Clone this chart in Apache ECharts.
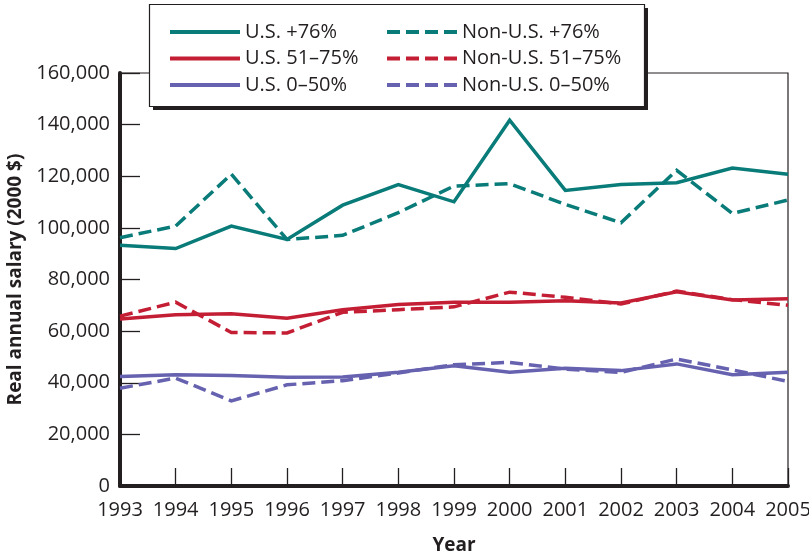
<!DOCTYPE html>
<html>
<head>
<meta charset="utf-8">
<script src="https://cdn.jsdelivr.net/npm/echarts@6/dist/echarts.min.js"></script>
<style>
  html, body { margin: 0; padding: 0; background: #fff; }
  #chart { width: 809px; height: 556px; }
</style>
</head>
<body>
<div id="chart"></div>
<script>
// Years on the horizontal axis
const years = ['1993','1994','1995','1996','1997','1998','1999','2000','2001','2002','2003','2004','2005'];

// Real annual salary (2000 $) by group
const usTop      = [93300, 92000, 100700, 95500, 108800, 116800, 110100, 141700, 114500, 116800, 117500, 123200, 120800];
const nonUsTop   = [96200, 100700, 120800, 95500, 97100, 105900, 116200, 117100, 109100, 102000, 122300, 105600, 110800];
const usMid      = [64700, 66300, 66700, 65000, 68300, 70300, 71200, 71200, 71800, 70900, 75200, 72100, 72500];
const nonUsMid   = [65800, 71200, 59500, 59300, 67300, 68300, 69400, 75100, 73100, 70500, 75500, 72200, 70000];
const usLow      = [42400, 43100, 42800, 42100, 42200, 44100, 46600, 44100, 45600, 44700, 47300, 43100, 44100];
const nonUsLow   = [37900, 41800, 33000, 39200, 40800, 43800, 47000, 47900, 45300, 44000, 49200, 45000, 40500];

const seriesNames = ['U.S. +76%', 'U.S. 51–75%', 'U.S. 0–50%', 'Non-U.S. +76%', 'Non-U.S. 51–75%', 'Non-U.S. 0–50%'];

const TEAL = '#097b79';
const RED = '#c41e35';
const PURPLE = '#6762b0';
const INK = '#231f20';
const FONT = '"Open Sans", "Noto Sans", sans-serif';
const DASH = [13, 6];

function lineSeries(name, data, color, dashed) {
  return {
    name: name,
    type: 'line',
    data: data,
    symbol: 'none',
    showSymbol: false,
    smooth: false,
    lineStyle: { color: color, width: 3.5, type: dashed ? DASH : 'solid', cap: 'butt', join: 'miter' },
    itemStyle: { color: color },
    emphasis: { disabled: true },
    z: 2
  };
}

const legendText = { fontFamily: FONT, fontSize: 20, color: INK };
const legendCommon = {
  orient: 'vertical',
  top: 17,
  itemWidth: 70, itemHeight: 12, itemGap: 6.5,
  textStyle: legendText,
  selectedMode: false,
  itemStyle: { opacity: 0 },
  lineStyle: { width: 4 },
  z: 10
};

const chart = echarts.init(document.getElementById('chart'), null, { renderer: 'canvas' });
chart.setOption({
  animation: false,
  backgroundColor: '#fff',
  grid: {
    left: 120, right: 21, top: 73, bottom: 70,
    outerBoundsMode: 'none',
    containLabel: false,
    show: true, borderColor: INK, borderWidth: 1.2, backgroundColor: 'transparent'
  },
  legend: [
    Object.assign({ data: seriesNames.slice(0, 3), left: 163 }, legendCommon),
    Object.assign({ data: seriesNames.slice(3), left: 380 }, legendCommon)
  ],
  graphic: [
    {
      type: 'rect', z: 5,
      shape: { x: 153, y: 8, width: 495, height: 102 },
      style: { fill: INK }
    },
    {
      type: 'rect', z: 6,
      shape: { x: 149.5, y: 4.5, width: 495, height: 102 },
      style: { fill: '#fff', stroke: INK, lineWidth: 1.2 }
    }
  ],
  xAxis: {
    type: 'category',
    data: years,
    boundaryGap: false,
    name: 'Year',
    nameLocation: 'middle',
    nameGap: 50,
    nameTextStyle: { fontFamily: FONT, fontSize: 19, fontWeight: 'bold', color: INK },
    axisLine: { lineStyle: { color: INK, width: 4 } },
    axisTick: { inside: true, length: 18, interval: 0, lineStyle: { color: INK, width: 1.3 } },
    axisLabel: { interval: 0, hideOverlap: false, margin: 14, fontFamily: FONT, fontSize: 20, color: INK },
    splitLine: { show: false }
  },
  yAxis: {
    type: 'value',
    min: 0, max: 160000, interval: 20000,
    name: 'Real annual salary (2000 $)',
    nameLocation: 'middle',
    nameRotate: 90,
    nameGap: 94,
    nameTextStyle: { fontFamily: FONT, fontSize: 19, fontWeight: 'bold', color: INK },
    axisLine: { show: true, lineStyle: { color: INK, width: 4 } },
    axisTick: { show: true, inside: true, length: 20, lineStyle: { color: INK, width: 1.3 } },
    axisLabel: {
      margin: 10, fontFamily: FONT, fontSize: 20, color: INK,
      formatter: v => v.toLocaleString('en-US')
    },
    splitLine: { show: false }
  },
  series: [
    lineSeries('U.S. +76%', usTop, TEAL, false),
    lineSeries('U.S. 51–75%', usMid, RED, false),
    lineSeries('U.S. 0–50%', usLow, PURPLE, false),
    lineSeries('Non-U.S. +76%', nonUsTop, TEAL, true),
    lineSeries('Non-U.S. 51–75%', nonUsMid, RED, true),
    lineSeries('Non-U.S. 0–50%', nonUsLow, PURPLE, true)
  ]
});
</script>
</body>
</html>
